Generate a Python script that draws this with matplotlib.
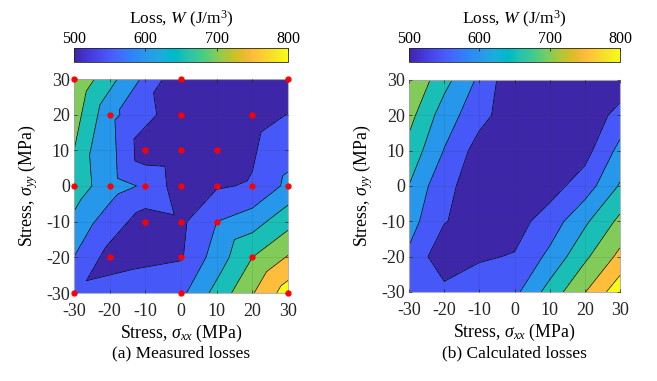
import numpy as np
import matplotlib
matplotlib.use("Agg")
import matplotlib.pyplot as plt
from matplotlib.colors import LinearSegmentedColormap, Normalize
from matplotlib.cm import ScalarMappable

plt.rcParams['font.family'] = ['Liberation Serif', 'DejaVu Serif']
plt.rcParams['mathtext.fontset'] = 'custom'
plt.rcParams['mathtext.rm'] = 'Liberation Serif'
plt.rcParams['mathtext.it'] = 'Liberation Serif:italic'
plt.rcParams['mathtext.bf'] = 'Liberation Serif:bold'
plt.rcParams['axes.unicode_minus'] = False

# ---------------- data ----------------
# measured points (sigma_xx, sigma_yy) and measured loss W
meas_x = [-30, 0, 30, -20, 0, 20, -10, 0, 10, -30, -20, -10, 0, 10, 20, 30,
          -10, 0, 10, -20, 0, 20, -30, 0, 30]
meas_y = [30, 30, 30, 20, 20, 20, 10, 10, 10, 0, 0, 0, 0, 0, 0, 0,
          -10, -10, -10, -20, -20, -20, -30, -30, -30]
meas_w = [745, 510, 521, 614, 517, 530, 520, 515, 520, 678, 622, 593, 521, 545, 555, 612,
          525, 540, 600, 531, 546, 700, 560, 588, 825]

# calculated loss on a regular grid
calc_x = [-30, -20, -10, 0, 10, 20, 30]
calc_y = [-30, -20, -10, 0, 10, 20, 30]
calc_w = [
    [560, 565, 575, 587, 670, 748, 833],   # y = -30
    [591, 515, 545, 553, 612, 690, 763],   # y = -20
    [620, 553, 525, 531, 572, 641, 712],   # y = -10
    [649, 560, 531, 515, 530, 574, 655],   # y = 0
    [683, 598, 528, 512, 515, 532, 615],   # y = 10
    [717, 625, 567, 518, 508, 515, 568],   # y = 20
    [749, 667, 590, 509, 505, 508, 518],   # y = 30
]

levels = [550, 600, 650, 700, 750, 800]
ticks = [-30, -20, -10, 0, 10, 20, 30]
cbar_ticks = [500, 600, 700, 800]
vmin, vmax = 500, 800

# ---------------- parula colormap ----------------
parula = [
 (0.2422,0.1504,0.6603),(0.2504,0.1650,0.7076),(0.2578,0.1818,0.7511),(0.2647,0.1978,0.7952),
 (0.2706,0.2147,0.8364),(0.2751,0.2342,0.8710),(0.2783,0.2559,0.8991),(0.2803,0.2782,0.9221),
 (0.2813,0.3006,0.9414),(0.2810,0.3228,0.9579),(0.2795,0.3447,0.9717),(0.2760,0.3667,0.9829),
 (0.2699,0.3892,0.9906),(0.2602,0.4123,0.9952),(0.2440,0.4358,0.9988),(0.2206,0.4603,0.9973),
 (0.1963,0.4847,0.9892),(0.1834,0.5074,0.9798),(0.1786,0.5289,0.9682),(0.1764,0.5499,0.9520),
 (0.1687,0.5703,0.9359),(0.1540,0.5902,0.9218),(0.1460,0.6091,0.9079),(0.1380,0.6276,0.8973),
 (0.1248,0.6459,0.8883),(0.1113,0.6635,0.8763),(0.0952,0.6798,0.8598),(0.0689,0.6948,0.8394),
 (0.0297,0.7082,0.8163),(0.0036,0.7203,0.7917),(0.0067,0.7312,0.7660),(0.0433,0.7411,0.7394),
 (0.0964,0.7500,0.7120),(0.1408,0.7584,0.6842),(0.1717,0.7670,0.6554),(0.1938,0.7758,0.6251),
 (0.2161,0.7843,0.5923),(0.2470,0.7918,0.5567),(0.2906,0.7973,0.5188),(0.3406,0.8008,0.4789),
 (0.3909,0.8029,0.4354),(0.4456,0.8024,0.3909),(0.5044,0.7993,0.3480),(0.5616,0.7942,0.3045),
 (0.6174,0.7876,0.2612),(0.6720,0.7793,0.2227),(0.7242,0.7698,0.1910),(0.7738,0.7598,0.1646),
 (0.8203,0.7498,0.1535),(0.8634,0.7406,0.1596),(0.9035,0.7330,0.1774),(0.9393,0.7288,0.2100),
 (0.9728,0.7298,0.2394),(0.9956,0.7434,0.2371),(0.9970,0.7659,0.2199),(0.9952,0.7893,0.2028),
 (0.9892,0.8136,0.1885),(0.9786,0.8386,0.1766),(0.9676,0.8639,0.1643),(0.9610,0.8890,0.1537),
 (0.9597,0.9135,0.1423),(0.9628,0.9373,0.1265),(0.9691,0.9606,0.1064),(0.9769,0.9839,0.0805)]
cmap = LinearSegmentedColormap.from_list('parula', parula, N=256)

def band_color(lv):
    m = len(parula)
    idx = int(np.floor((lv - vmin) / (vmax - vmin) * m))
    idx = max(0, min(m - 1, idx))
    return parula[idx]

fill_levels = [0] + levels + [5000]
fill_colors = [band_color(vmin)] + [band_color(l) for l in levels]

W, H = 657, 381
fig = plt.figure(figsize=(W / 100, H / 100), dpi=100)

def style_axes(ax):
    ax.set_xlim(-30, 30)
    ax.set_ylim(-30, 30)
    ax.set_xticks(ticks)
    ax.set_yticks(ticks)
    ax.tick_params(direction='in', length=2.5, width=0.5, labelsize=13,
                   top=True, right=True, colors='0.15')
    ax.tick_params(axis='x', pad=7)
    ax.tick_params(axis='y', pad=3)
    for s in ax.spines.values():
        s.set_color('0.7')
        s.set_linewidth(0.8)
    ax.grid(True, color='0.15', alpha=0.12, linewidth=0.6)
    ax.set_axisbelow(False)
    ax.set_xlabel(r'Stress, $\sigma_{xx}$ (MPa)', fontsize=12.8, labelpad=2)
    ax.set_ylabel(r'Stress, $\sigma_{yy}$ (MPa)', fontsize=12.8, labelpad=4)

def add_cbar(rect):
    cax = fig.add_axes(rect)
    sm = ScalarMappable(norm=Normalize(vmin, vmax), cmap=cmap)
    cb = fig.colorbar(sm, cax=cax, orientation='horizontal', ticks=cbar_ticks)
    cax.xaxis.set_ticks_position('top')
    cax.xaxis.set_label_position('top')
    cax.tick_params(direction='in', length=2, width=0.5, labelsize=11.5, pad=1)
    cb.outline.set_linewidth(0.6)
    cb.outline.set_edgecolor('0.15')
    cb.set_label(r'Loss, $W$ (J/m$^3$)', fontsize=12.5, labelpad=5)
    return cb

# ---- panel (a) ----
ax_a = fig.add_axes([74 / W, (H - 293) / H, 214 / W, 214 / H])
ax_a.tricontourf(meas_x, meas_y, meas_w, levels=fill_levels, colors=fill_colors)
ax_a.tricontour(meas_x, meas_y, meas_w, levels=levels, colors='k', linewidths=0.5)
ax_a.plot(meas_x, meas_y, 'o', color='red', markersize=3.5, clip_on=False, zorder=10)
style_axes(ax_a)
add_cbar([74 / W, (H - 62) / H, 214 / W, 14 / H])

# ---- panel (b) ----
ax_b = fig.add_axes([409 / W, (H - 292) / H, 211 / W, 212 / H])
Xg, Yg = np.meshgrid(calc_x, calc_y)
Zg = np.array(calc_w, dtype=float)
ax_b.contourf(Xg, Yg, Zg, levels=fill_levels, colors=fill_colors)
ax_b.contour(Xg, Yg, Zg, levels=levels, colors='k', linewidths=0.5)
style_axes(ax_b)
add_cbar([409 / W, (H - 62) / H, 211 / W, 14 / H])

fig.text(181 / W, 1 - 353 / H, '(a) Measured losses', ha='center', va='center', fontsize=12.5)
fig.text(514 / W, 1 - 353 / H, '(b) Calculated losses', ha='center', va='center', fontsize=12.5)

fig.savefig('out.png', dpi=100)
